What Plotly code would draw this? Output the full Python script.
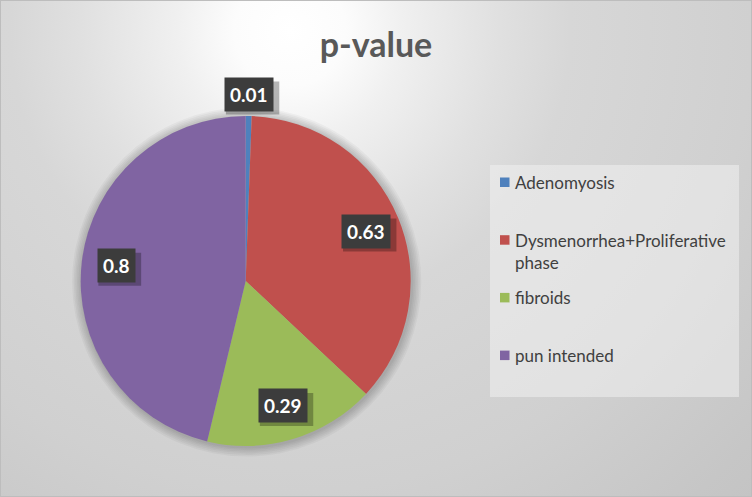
"""Pie of p-values per finding, styled after the Excel original."""

import math
import urllib.parse

import plotly.graph_objects as go

# data
categories = ["Adenomyosis", "Dysmenorrhea+Proliferative phase", "fibroids", "pun intended"]
p_values = [0.01, 0.63, 0.29, 0.8]
colors = ["#4F81BD", "#C0504D", "#9BBB59", "#8064A2"]
title_text = "p-value"

W, H = 752, 497
CX, CY, R = 245.7, 281.0, 165.0  # pie centre / radius in px

FONT = "Lato, 'Open Sans', sans-serif"


def px_x(x):
    return x / W


def px_y(y):
    return 1 - y / H


def wrap_name(name):
    # Excel wraps the long entry
    return name.replace("+Proliferative ", "+Proliferative<br>")


bg_svg = f"""<svg xmlns='http://www.w3.org/2000/svg' width='{W}' height='{H}'>
<defs><radialGradient id='g' gradientUnits='userSpaceOnUse' cx='290' cy='30' r='700'>
<stop offset='0' stop-color='#ffffff'/>
<stop offset='0.08' stop-color='#fcfcfc'/>
<stop offset='0.16' stop-color='#f0f0f0'/>
<stop offset='0.30' stop-color='#e0e0e0'/>
<stop offset='0.40' stop-color='#d7d7d7'/>
<stop offset='0.66' stop-color='#d0d0d0'/>
<stop offset='0.88' stop-color='#c6c6c6'/>
<stop offset='1' stop-color='#c2c2c2'/>
</radialGradient></defs>
<rect width='{W}' height='{H}' fill='url(#g)'/></svg>"""
bg_uri = "data:image/svg+xml;charset=utf-8," + urllib.parse.quote(bg_svg)

fig = go.Figure(
    go.Pie(
        labels=categories,
        values=p_values,
        marker={"colors": colors, "line": {"width": 0}},
        sort=False,
        direction="clockwise",
        rotation=0,
        textinfo="none",
        hoverinfo="label+value",
        showlegend=False,
        domain={
            "x": [px_x(CX - R), px_x(CX + R)],
            "y": [px_y(CY + R), px_y(CY - R)],
        },
    )
)

# soft shadow round the pie
shapes = []
for k in range(1, 7):
    rr = R + k * 1.6
    shapes.append(
        {
            "type": "circle",
            "xref": "paper",
            "yref": "paper",
            "x0": px_x(CX - rr + 1),
            "x1": px_x(CX + rr + 1),
            "y0": px_y(CY + rr + 1),
            "y1": px_y(CY - rr + 1),
            "fillcolor": "rgba(0,0,0,0.035)",
            "line": {"width": 0},
            "layer": "below",
        }
    )

# legend panel
shapes.append(
    {
        "type": "rect",
        "xref": "paper",
        "yref": "paper",
        "x0": px_x(490),
        "x1": px_x(739),
        "y0": px_y(397),
        "y1": px_y(165),
        "fillcolor": "rgba(240,240,240,0.55)",
        "line": {"width": 0},
        "layer": "below",
    }
)

# chart border
shapes.append(
    {
        "type": "rect",
        "xref": "paper",
        "yref": "paper",
        "x0": 0,
        "x1": 1,
        "y0": 0,
        "y1": 1,
        "line": {"color": "#bdbdbd", "width": 2},
        "fillcolor": "rgba(0,0,0,0)",
    }
)

annotations = []

# legend drawn by hand so the entry spacing follows Excel's
LEG_Y0, LEG_STEP = 182, 57.7
for i, (name, col) in enumerate(zip(categories, colors)):
    yc = LEG_Y0 + i * LEG_STEP
    shapes.append(
        {
            "type": "rect",
            "xref": "paper",
            "yref": "paper",
            "x0": px_x(500),
            "x1": px_x(509.5),
            "y0": px_y(yc + 5),
            "y1": px_y(yc - 4.5),
            "fillcolor": col,
            "line": {"width": 0},
        }
    )
    annotations.append(
        {
            "xref": "paper",
            "yref": "paper",
            "x": px_x(513),
            "y": px_y(yc - 12),
            "xanchor": "left",
            "yanchor": "top",
            "align": "left",
            "showarrow": False,
            "text": wrap_name(name),
            "font": {"family": FONT, "size": 17, "color": "#404040"},
        }
    )

# data labels in dark boxes, placed along each slice's mid angle
total = sum(p_values)
cum = 0.0
for v in p_values:
    frac = v / total
    mid = (cum + frac / 2) * 2 * math.pi
    cum += frac
    dist = 1.13 if frac < 0.03 else 0.79
    lx = CX + dist * R * math.sin(mid)
    ly = CY - dist * R * math.cos(mid)
    label = f"{v:g}"
    # drop shadow behind the label box
    bw = len(label) * 10.6 + 10
    shapes.append(
        {
            "type": "rect",
            "xref": "paper",
            "yref": "paper",
            "x0": px_x(lx - bw / 2 + 3),
            "x1": px_x(lx + bw / 2 + 4),
            "y0": px_y(ly + 16 + 4),
            "y1": px_y(ly - 16 + 3),
            "fillcolor": "rgba(0,0,0,0.28)",
            "line": {"width": 0},
        }
    )
    annotations.append(
        {
            "xref": "paper",
            "yref": "paper",
            "x": px_x(lx),
            "y": px_y(ly),
            "xanchor": "center",
            "yanchor": "middle",
            "showarrow": False,
            "borderpad": 5,
            "text": f"<b>{label}</b>",
            "bgcolor": "#3c3c3c",
            "font": {"family": FONT, "size": 19, "color": "#ffffff"},
        }
    )

fig.update_layout(
    width=W,
    height=H,
    margin={"t": 0, "r": 0, "b": 0, "l": 0},
    paper_bgcolor="#d8d8d8",
    plot_bgcolor="rgba(0,0,0,0)",
    showlegend=False,
    title={
        "text": f"<b>{title_text}</b>",
        "x": 0.5,
        "xanchor": "center",
        "y": px_y(45),
        "yanchor": "middle",
        "font": {"family": FONT, "size": 34, "color": "#595959"},
    },
    images=[
        {
            "source": bg_uri,
            "xref": "paper",
            "yref": "paper",
            "x": 0,
            "y": 1,
            "sizex": 1,
            "sizey": 1,
            "sizing": "stretch",
            "xanchor": "left",
            "yanchor": "top",
            "layer": "below",
        }
    ],
    shapes=shapes,
    annotations=annotations,
)

fig.write_html(
    "out.html",
    config={"displayModeBar": False},
    post_script="document.body.style.margin='0';",
)
